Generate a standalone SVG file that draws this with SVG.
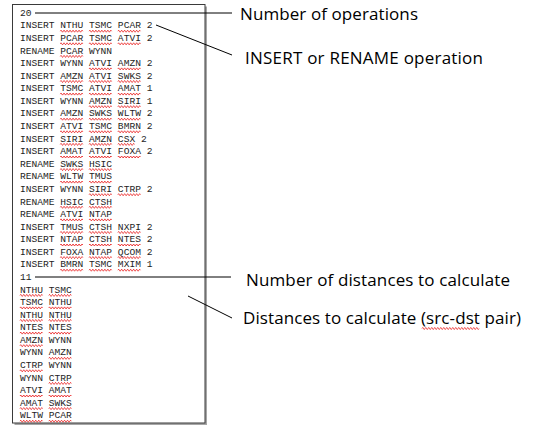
<svg xmlns="http://www.w3.org/2000/svg" xmlns:xlink="http://www.w3.org/1999/xlink" width="545" height="434" viewBox="0 0 545 434">
<style>
.mono{font-family:"Liberation Mono","DejaVu Sans Mono",monospace;font-size:9.6px;fill:#1e1e1e}
.lbl{font-family:"Open Sans","Noto Sans",sans-serif;font-size:17px;fill:#000}
.sq{fill:none;stroke:#e81010;stroke-width:0.8}
.con{stroke:#000;stroke-width:1;fill:none}
</style>
<defs>
<path id="w4" class="sq" d="M0,1 q0.75,-2 1.5,0 t1.5,0 t1.5,0 t1.5,0 t1.5,0 t1.5,0 t1.5,0 t1.5,0 t1.5,0 t1.5,0 t1.5,0 t1.5,0 t1.5,0 t1.5,0 t1.5,0"/>
<path id="w3" class="sq" d="M0,1 q0.75,-2 1.5,0 t1.5,0 t1.5,0 t1.5,0 t1.5,0 t1.5,0 t1.5,0 t1.5,0 t1.5,0 t1.5,0 t1.5,0"/>
</defs>
<rect width="545" height="434" fill="#fff"/>
<g id="input-box">
<rect x="14.5" y="6.5" width="192.5" height="418.5" fill="#a6a6a6"/>
<rect x="12.5" y="4.5" width="192.5" height="418.5" fill="#fff" stroke="#3a3a3a" stroke-width="1"/>
<g class="mono">
<text x="20" y="15.8">20</text>
<text x="20" y="28.38">INSERT NTHU TSMC PCAR 2</text>
<text x="20" y="40.96">INSERT PCAR TSMC ATVI 2</text>
<text x="20" y="53.54">RENAME PCAR WYNN</text>
<text x="20" y="66.12">INSERT WYNN ATVI AMZN 2</text>
<text x="20" y="78.7">INSERT AMZN ATVI SWKS 2</text>
<text x="20" y="91.28">INSERT TSMC ATVI AMAT 1</text>
<text x="20" y="103.86">INSERT WYNN AMZN SIRI 1</text>
<text x="20" y="116.44">INSERT AMZN SWKS WLTW 2</text>
<text x="20" y="129.02">INSERT ATVI TSMC BMRN 2</text>
<text x="20" y="141.6">INSERT SIRI AMZN CSX 2</text>
<text x="20" y="154.18">INSERT AMAT ATVI FOXA 2</text>
<text x="20" y="166.76">RENAME SWKS HSIC</text>
<text x="20" y="179.34">RENAME WLTW TMUS</text>
<text x="20" y="191.92">INSERT WYNN SIRI CTRP 2</text>
<text x="20" y="204.5">RENAME HSIC CTSH</text>
<text x="20" y="217.08">RENAME ATVI NTAP</text>
<text x="20" y="229.66">INSERT TMUS CTSH NXPI 2</text>
<text x="20" y="242.24">INSERT NTAP CTSH NTES 2</text>
<text x="20" y="254.82">INSERT FOXA NTAP QCOM 2</text>
<text x="20" y="267.4">INSERT BMRN TSMC MXIM 1</text>
<text x="20" y="279.98">11</text>
<text x="20" y="292.56">NTHU TSMC</text>
<text x="20" y="305.14">TSMC NTHU</text>
<text x="20" y="317.72">NTHU NTHU</text>
<text x="20" y="330.3">NTES NTES</text>
<text x="20" y="342.88">AMZN WYNN</text>
<text x="20" y="355.46">WYNN AMZN</text>
<text x="20" y="368.04">CTRP WYNN</text>
<text x="20" y="380.62">WYNN CTRP</text>
<text x="20" y="393.2">ATVI AMAT</text>
<text x="20" y="405.78">AMAT SWKS</text>
<text x="20" y="418.36">WLTW PCAR</text>
</g>
<g id="spell-marks">
<use xlink:href="#w4" x="60.3" y="30.2"/><use xlink:href="#w4" x="89.1" y="30.2"/><use xlink:href="#w4" x="117.9" y="30.2"/>
<use xlink:href="#w4" x="60.3" y="42.8"/><use xlink:href="#w4" x="89.1" y="42.8"/><use xlink:href="#w4" x="117.9" y="42.8"/>
<use xlink:href="#w4" x="60.3" y="55.4"/>
<use xlink:href="#w4" x="89.1" y="67.9"/><use xlink:href="#w4" x="117.9" y="67.9"/>
<use xlink:href="#w4" x="60.3" y="80.5"/><use xlink:href="#w4" x="89.1" y="80.5"/><use xlink:href="#w4" x="117.9" y="80.5"/>
<use xlink:href="#w4" x="60.3" y="93.1"/><use xlink:href="#w4" x="89.1" y="93.1"/><use xlink:href="#w4" x="117.9" y="93.1"/>
<use xlink:href="#w4" x="89.1" y="105.7"/><use xlink:href="#w4" x="117.9" y="105.7"/>
<use xlink:href="#w4" x="60.3" y="118.2"/><use xlink:href="#w4" x="89.1" y="118.2"/><use xlink:href="#w4" x="117.9" y="118.2"/>
<use xlink:href="#w4" x="60.3" y="130.8"/><use xlink:href="#w4" x="89.1" y="130.8"/><use xlink:href="#w4" x="117.9" y="130.8"/>
<use xlink:href="#w4" x="60.3" y="143.4"/><use xlink:href="#w4" x="89.1" y="143.4"/><use xlink:href="#w3" x="117.9" y="143.4"/>
<use xlink:href="#w4" x="60.3" y="156"/><use xlink:href="#w4" x="89.1" y="156"/><use xlink:href="#w4" x="117.9" y="156"/>
<use xlink:href="#w4" x="60.3" y="168.6"/><use xlink:href="#w4" x="89.1" y="168.6"/>
<use xlink:href="#w4" x="60.3" y="181.1"/><use xlink:href="#w4" x="89.1" y="181.1"/>
<use xlink:href="#w4" x="89.1" y="193.7"/><use xlink:href="#w4" x="117.9" y="193.7"/>
<use xlink:href="#w4" x="60.3" y="206.3"/><use xlink:href="#w4" x="89.1" y="206.3"/>
<use xlink:href="#w4" x="60.3" y="218.9"/><use xlink:href="#w4" x="89.1" y="218.9"/>
<use xlink:href="#w4" x="60.3" y="231.5"/><use xlink:href="#w4" x="89.1" y="231.5"/><use xlink:href="#w4" x="117.9" y="231.5"/>
<use xlink:href="#w4" x="60.3" y="244"/><use xlink:href="#w4" x="89.1" y="244"/><use xlink:href="#w4" x="117.9" y="244"/>
<use xlink:href="#w4" x="60.3" y="256.6"/><use xlink:href="#w4" x="89.1" y="256.6"/><use xlink:href="#w4" x="117.9" y="256.6"/>
<use xlink:href="#w4" x="60.3" y="269.2"/><use xlink:href="#w4" x="89.1" y="269.2"/><use xlink:href="#w4" x="117.9" y="269.2"/>
<use xlink:href="#w4" x="20" y="294.4"/><use xlink:href="#w4" x="48.8" y="294.4"/>
<use xlink:href="#w4" x="20" y="306.9"/><use xlink:href="#w4" x="48.8" y="306.9"/>
<use xlink:href="#w4" x="20" y="319.5"/><use xlink:href="#w4" x="48.8" y="319.5"/>
<use xlink:href="#w4" x="20" y="332.1"/><use xlink:href="#w4" x="48.8" y="332.1"/>
<use xlink:href="#w4" x="20" y="344.7"/>
<use xlink:href="#w4" x="48.8" y="357.3"/>
<use xlink:href="#w4" x="20" y="369.8"/>
<use xlink:href="#w4" x="48.8" y="382.4"/>
<use xlink:href="#w4" x="20" y="395"/><use xlink:href="#w4" x="48.8" y="395"/>
<use xlink:href="#w4" x="20" y="407.6"/><use xlink:href="#w4" x="48.8" y="407.6"/>
<use xlink:href="#w4" x="20" y="420.2"/><use xlink:href="#w4" x="48.8" y="420.2"/>
</g>
</g>
<g id="connectors">
<line class="con" x1="35" y1="13" x2="232" y2="13"/>
<line class="con" x1="156" y1="25" x2="232" y2="55"/>
<line class="con" x1="35" y1="277" x2="231" y2="277"/>
<line class="con" x1="188" y1="296" x2="232" y2="318"/>
</g>
<g id="label-num-ops"><text class="lbl" x="240" y="20" textLength="178" lengthAdjust="spacing">Number of operations</text></g>
<g id="label-operation"><text class="lbl" x="245" y="64" textLength="238" lengthAdjust="spacing">INSERT or RENAME operation</text></g>
<g id="label-num-dist"><text class="lbl" x="246" y="285.7" textLength="264" lengthAdjust="spacing">Number of distances to calculate</text></g>
<g id="label-pairs"><text class="lbl" x="243" y="324.3" textLength="278" lengthAdjust="spacing">Distances to calculate (src-dst pair)</text>
<path class="sq" d="M422,328.5 q0.75,-2 1.5,0 t1.5,0 t1.5,0 t1.5,0 t1.5,0 t1.5,0 t1.5,0 t1.5,0 t1.5,0 t1.5,0 t1.5,0 t1.5,0 t1.5,0 t1.5,0 t1.5,0 t1.5,0 t1.5,0 t1.5,0 t1.5,0 t1.5,0 t1.5,0 t1.5,0 t1.5,0 t1.5,0 t1.5,0 t1.5,0 t1.5,0 t1.5,0 t1.5,0 t1.5,0 t1.5,0 t1.5,0 t1.5,0 t1.5,0 t1.5,0 t1.5,0 t1.5,0 t1.5,0"/>
</g>
</svg>
